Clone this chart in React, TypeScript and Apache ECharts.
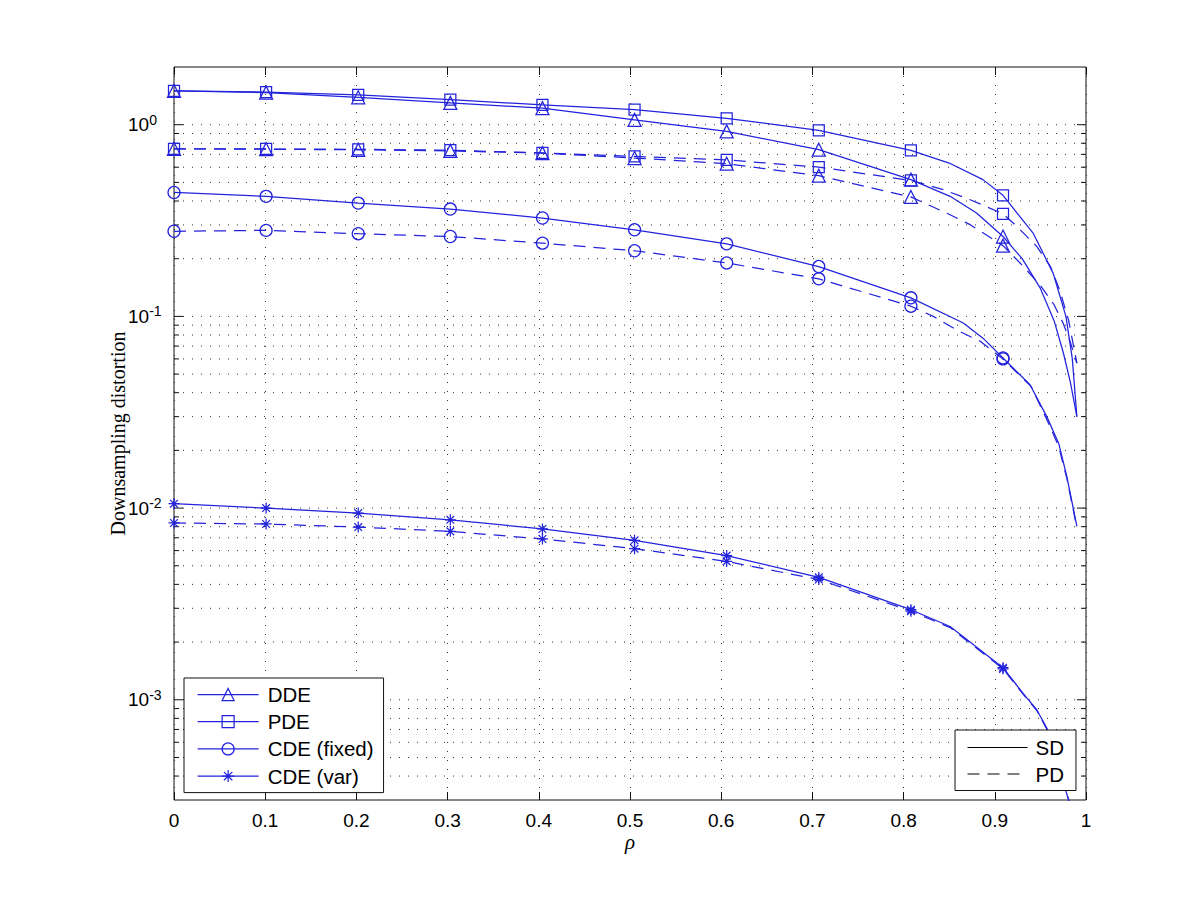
import React, { useEffect, useRef } from 'react';
import * as echarts from 'echarts';

const BLUE = '#2323dc';
const SANS = 'Liberation Sans, Arial, Helvetica, sans-serif';

// marker abscissae (rho)
const RHO_MARKS = [0, 0.101, 0.202, 0.303, 0.404, 0.505, 0.606, 0.707, 0.808, 0.909];

// values at the marker abscissae
const DDE_SD = [1.5, 1.47, 1.39, 1.3, 1.22, 1.06, 0.923, 0.741, 0.517, 0.261];
const PDE_SD = [1.5, 1.48, 1.43, 1.35, 1.27, 1.2, 1.08, 0.934, 0.734, 0.428];
const DDE_PD = [0.749, 0.745, 0.74, 0.73, 0.711, 0.67, 0.626, 0.542, 0.42, 0.234];
const PDE_PD = [0.749, 0.747, 0.744, 0.736, 0.712, 0.684, 0.655, 0.601, 0.512, 0.343];
const CDEF_SD = [0.443, 0.423, 0.39, 0.363, 0.326, 0.283, 0.239, 0.182, 0.125, 0.0607];
const CDEF_PD = [0.278, 0.281, 0.27, 0.261, 0.241, 0.22, 0.19, 0.157, 0.113, 0.06];
const CDEV_SD = [0.01054, 0.01, 0.00942, 0.00869, 0.00778, 0.00679, 0.00565, 0.00435, 0.00295, 0.00147];
const CDEV_PD = [0.00836, 0.00826, 0.00796, 0.00756, 0.0069, 0.00614, 0.00527, 0.00424, 0.0029, 0.00145];

// extra curve points (no marker)
const DDE_SD_TX = [0.851, 0.88, 0.93, 0.95, 0.965, 0.975, 0.983, 0.99];
const DDE_SD_TY = [0.423, 0.346, 0.2, 0.14, 0.095, 0.065, 0.045, 0.03];
const PDE_SD_TX = [0.85, 0.887, 0.942, 0.964, 0.978, 0.985, 0.99];
const PDE_SD_TY = [0.631, 0.517, 0.272, 0.168, 0.1, 0.06, 0.03];
const DDE_PD_TX = [0.847, 0.873, 0.93, 0.95, 0.965, 0.975, 0.983, 0.99];
const DDE_PD_TY = [0.346, 0.301, 0.185, 0.145, 0.115, 0.092, 0.073, 0.057];
const PDE_PD_TX = [0.8435, 0.873, 0.924, 0.946, 0.961, 0.971, 0.981, 0.99];
const PDE_PD_TY = [0.458, 0.406, 0.295, 0.232, 0.182, 0.138, 0.095, 0.057];
const CDEF_SD_TX = [0.8655, 0.887, 0.9386, 0.957, 0.97, 0.979, 0.99];
const CDEF_SD_TY = [0.0924, 0.077, 0.044, 0.03, 0.0218, 0.0146, 0.00803];
const CDEF_PD_TX = [0.8326, 0.858, 0.884, 0.94, 0.957, 0.97, 0.979, 0.99];
const CDEF_PD_TY = [0.1, 0.085, 0.0741, 0.043, 0.029, 0.021, 0.0143, 0.0079];
const CDEV_SD_TX = [0.851, 0.931, 0.946, 0.957, 0.981, 0.99];
const CDEV_SD_TY = [0.00241, 0.00108, 0.000887, 0.000711, 0.0003, 0.00015];
const CDEV_PD_TX = [0.851, 0.931, 0.946, 0.957, 0.981, 0.99];
const CDEV_PD_TY = [0.00238, 0.00107, 0.00088, 0.000705, 0.0003, 0.00015];

// y-axis grid / tick values
const Y_MAJOR = [0.001, 0.01, 0.1, 1];
const Y_MINOR = [
  0.0004, 0.0005, 0.0006, 0.0007, 0.0008, 0.0009,
  0.002, 0.003, 0.004, 0.005, 0.006, 0.007, 0.008, 0.009,
  0.02, 0.03, 0.04, 0.05, 0.06, 0.07, 0.08, 0.09,
  0.2, 0.3, 0.4, 0.5, 0.6, 0.7, 0.8, 0.9,
];

const ASTERISK = 'path://M5,0L5,10M0,5L10,5M1.5,1.5L8.5,8.5M1.5,8.5L8.5,1.5';

function build(markY: number[], tx: number[], ty: number[]) {
  const pts: any[] = RHO_MARKS.map((x, i) => ({ value: [x, markY[i]] }));
  tx.forEach((x, i) => pts.push({ value: [x, ty[i]], symbol: 'none' }));
  pts.sort((a, b) => a.value[0] - b.value[0]);
  return pts;
}

function curve(name: string, data: any[], symbol: string, size: number, dashed: boolean) {
  return {
    type: 'line',
    name,
    data,
    symbol,
    symbolSize: size,
    showSymbol: true,
    showAllSymbol: true,
    clip: true,
    z: 3,
    lineStyle: { color: BLUE, width: 1.25, type: dashed ? [12, 8] : 'solid' },
    itemStyle: { color: 'rgba(0,0,0,0)', borderColor: BLUE, borderWidth: 1.25 },
    emphasis: { disabled: true },
    silent: true,
  };
}

export default function App() {
  const ref = useRef<HTMLDivElement>(null);
  useEffect(() => {
    if (!ref.current) return;
    const chart = echarts.init(ref.current, null, { renderer: 'svg' });
    const yGridData = [...Y_MAJOR, ...Y_MINOR].map((v) => [0, v]);
    const option: any = {
      animation: false,
      backgroundColor: '#fff',
      grid: {
        left: 174, top: 67, right: 114, bottom: 100,
        show: true, borderColor: '#111', borderWidth: 1, backgroundColor: 'transparent',
      },
      xAxis: [
        {
          type: 'value', min: 0, max: 1, interval: 0.1, position: 'bottom',
          axisLine: { show: false },
          axisTick: { show: true, inside: true, length: 8, lineStyle: { color: '#111', width: 1 } },
          axisLabel: { color: '#000', fontSize: 19, fontFamily: SANS, margin: 11 },
          splitLine: { show: true, lineStyle: { color: '#333', width: 1, type: [1, 8] } },
          name: 'ρ', nameLocation: 'middle', nameGap: 34, nameMoveOverlap: false,
          nameTextStyle: { fontFamily: 'Liberation Serif, serif', fontStyle: 'italic', fontSize: 21, lineHeight: 16, color: '#000' },
        },
        {
          type: 'value', min: 0, max: 1, interval: 0.1, position: 'top',
          axisLine: { show: false },
          axisTick: { show: true, inside: true, length: 8, lineStyle: { color: '#111', width: 1 } },
          axisLabel: { show: false },
          splitLine: { show: false },
        },
      ],
      yAxis: [
        {
          type: 'log', logBase: 10, min: 3e-4, max: 2,
          axisLine: { show: false },
          axisTick: { show: false },
          splitLine: { show: false },
          minorTick: { show: false },
          minorSplitLine: { show: false },
          axisLabel: {
            margin: 46,
            align: 'left',
            showMinLabel: false,
            showMaxLabel: false,
            formatter: (v: number) => {
              const l = Math.log10(v);
              const e = Math.round(l);
              if (Math.abs(l - e) > 1e-6) return '';
              return '{b|10}{s|' + (e < 0 ? '-' + -e : String(e)) + '}';
            },
            rich: {
              b: { fontSize: 19, fontFamily: SANS, color: '#000', lineHeight: 24 },
              s: { fontSize: 14, fontFamily: SANS, color: '#000', lineHeight: 12, verticalAlign: 'top' },
            },
          },
          name: 'Downsampling distortion', nameLocation: 'middle', nameGap: 46, nameMoveOverlap: false,
          nameTextStyle: { fontFamily: 'Liberation Serif, serif', fontSize: 20, color: '#000' },
        },
      ],
      legend: [
        {
          left: 184, top: 678, orient: 'vertical', selectedMode: false,
          backgroundColor: '#fff', borderColor: '#111', borderWidth: 1,
          padding: [6, 10, 6, 13], itemGap: 6.2, itemWidth: 61, itemHeight: 15,
          textStyle: { fontSize: 20.5, fontFamily: SANS, color: '#000', lineHeight: 20.5, padding: [0, 0, 0, 4] },
          itemStyle: { color: 'rgba(0,0,0,0)', borderColor: BLUE, borderWidth: 1.25 },
          lineStyle: { color: BLUE, width: 1.25, type: 'solid' },
          data: ['DDE', 'PDE', 'CDE (fixed)', 'CDE (var)'],
        },
        {
          left: 955, top: 730, orient: 'vertical', selectedMode: false,
          backgroundColor: '#fff', borderColor: '#111', borderWidth: 1,
          padding: [7, 12, 6, 12], itemGap: 5.5, itemWidth: 60, itemHeight: 15,
          textStyle: { fontSize: 20.5, fontFamily: SANS, color: '#000', lineHeight: 20.5, padding: [0, 0, 0, 3] },
          itemStyle: { color: 'rgba(0,0,0,0)', borderColor: 'rgba(0,0,0,0)', borderWidth: 0 },
          lineStyle: { color: '#000', width: 1 },
          data: [
            { name: 'SD', lineStyle: { type: 'solid' } },
            { name: 'PD', lineStyle: { type: [12, 8] } },
          ],
        },
      ],
      series: [
        {
          type: 'custom', name: 'ygrid', silent: true, z: 1,
          data: yGridData, encode: { x: 0, y: 1 },
          renderItem: (params: any, api: any) => {
            const v = api.value(1);
            const p = api.coord([0, v]);
            const cs = params.coordSys;
            const y = p[1];
            const len = Y_MAJOR.indexOf(v) >= 0 ? 9 : 5;
            return {
              type: 'group',
              children: [
                { type: 'line', shape: { x1: cs.x, y1: y, x2: cs.x + cs.width, y2: y }, style: { stroke: '#333', lineWidth: 1, lineDash: [1, 8] } },
                { type: 'line', shape: { x1: cs.x, y1: y, x2: cs.x + len, y2: y }, style: { stroke: '#111', lineWidth: 1 } },
                { type: 'line', shape: { x1: cs.x + cs.width - len, y1: y, x2: cs.x + cs.width, y2: y }, style: { stroke: '#111', lineWidth: 1 } },
              ],
            };
          },
        },
        curve('DDE', build(DDE_SD, DDE_SD_TX, DDE_SD_TY), 'triangle', 13, false),
        curve('PDE', build(PDE_SD, PDE_SD_TX, PDE_SD_TY), 'rect', 11, false),
        curve('CDE (fixed)', build(CDEF_SD, CDEF_SD_TX, CDEF_SD_TY), 'circle', 12, false),
        curve('CDE (var)', build(CDEV_SD, CDEV_SD_TX, CDEV_SD_TY), ASTERISK, 11, false),
        curve('DDE', build(DDE_PD, DDE_PD_TX, DDE_PD_TY), 'triangle', 13, true),
        curve('PDE', build(PDE_PD, PDE_PD_TX, PDE_PD_TY), 'rect', 11, true),
        curve('CDE (fixed)', build(CDEF_PD, CDEF_PD_TX, CDEF_PD_TY), 'circle', 12, true),
        curve('CDE (var)', build(CDEV_PD, CDEV_PD_TX, CDEV_PD_TY), ASTERISK, 11, true),
        {
          type: 'line', name: 'SD', data: [], symbol: 'none',
          lineStyle: { color: '#000', width: 1, type: 'solid' },
          itemStyle: { color: 'rgba(0,0,0,0)', borderWidth: 0 },
        },
        {
          type: 'line', name: 'PD', data: [], symbol: 'none',
          lineStyle: { color: '#000', width: 1, type: [12, 8] },
          itemStyle: { color: 'rgba(0,0,0,0)', borderWidth: 0 },
        },
      ],
    };
    chart.setOption(option);
    return () => chart.dispose();
  }, []);
  return <div ref={ref} style={{ position: 'fixed', left: 0, top: 0, width: 1200, height: 900, background: '#fff' }} />;
}
